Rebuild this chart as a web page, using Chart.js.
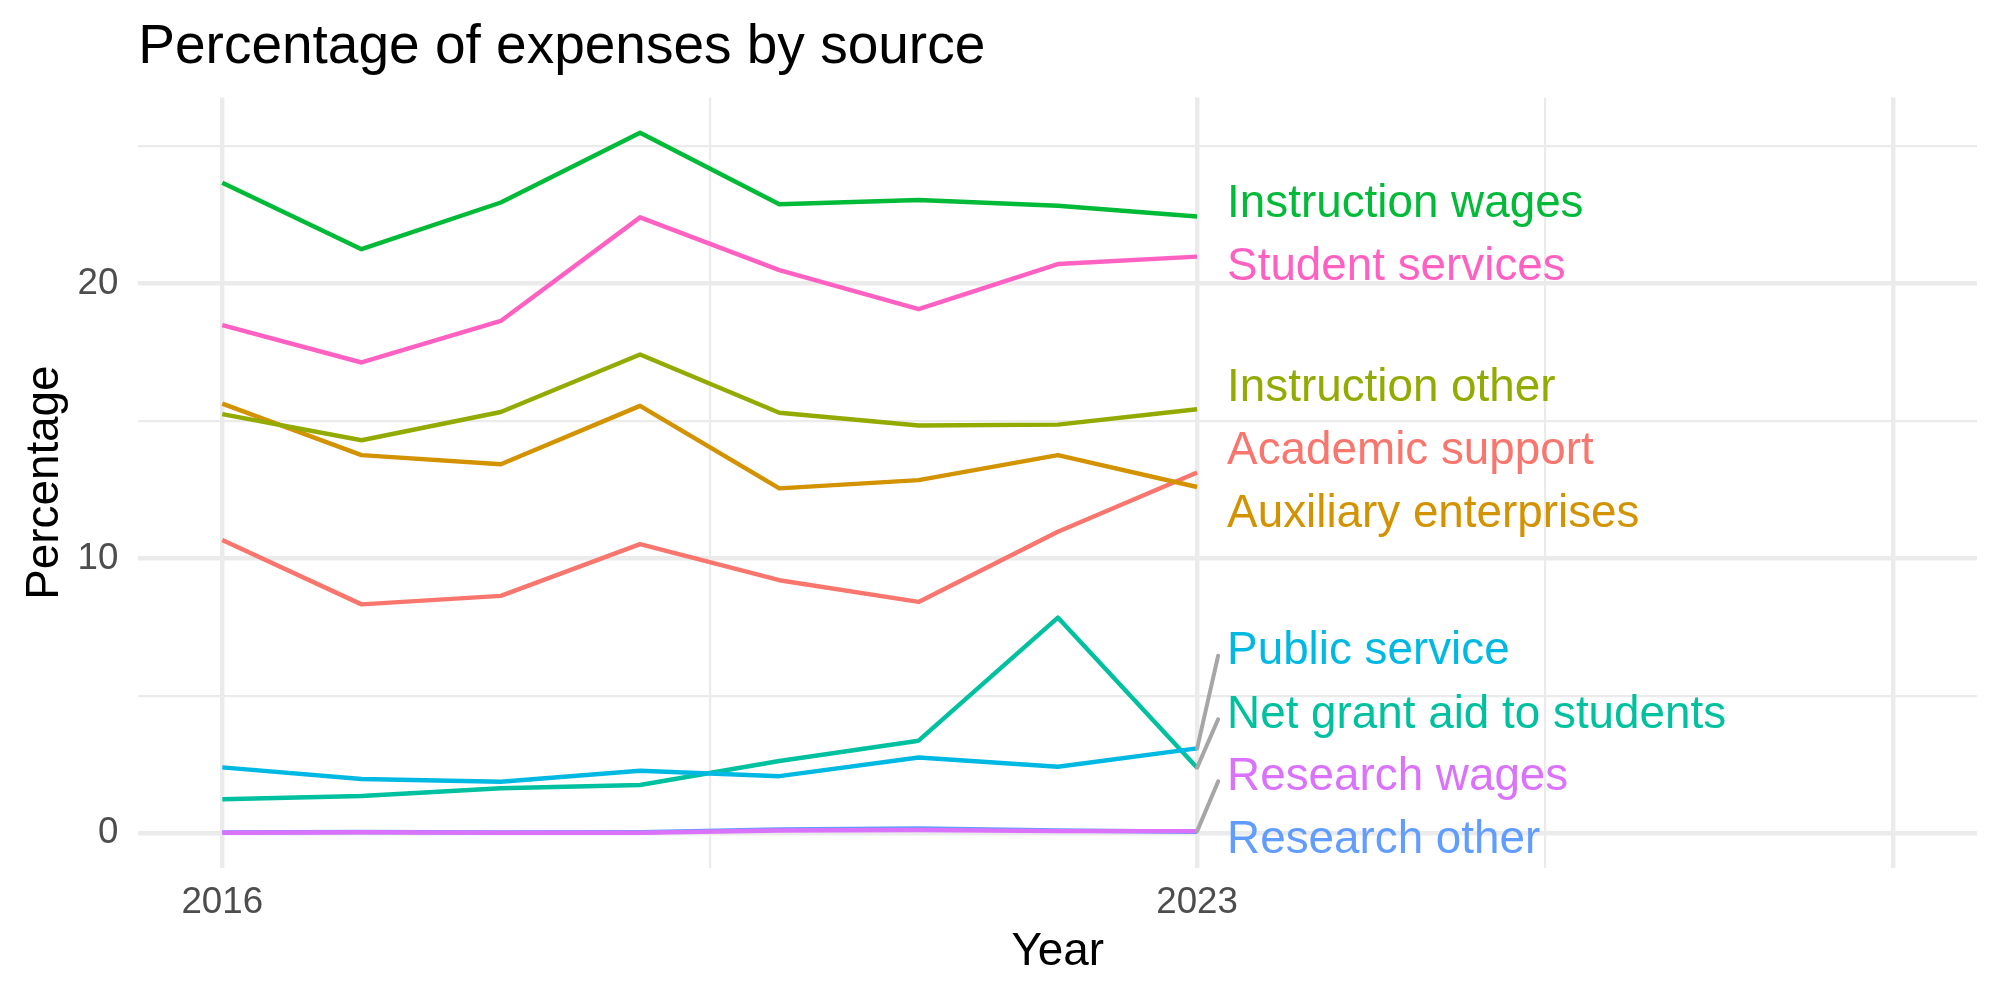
<!DOCTYPE html>
<html>
<head>
<meta charset="utf-8">
<title>Percentage of expenses by source</title>
<script src="https://cdn.jsdelivr.net/npm/chart.js@4.4.1/dist/chart.umd.min.js"></script>
<style>
  html, body { margin: 0; padding: 0; background: #fff; }
  #wrap { width: 2000px; height: 1000px; }
</style>
</head>
<body>
<div id="wrap"><canvas id="chart" width="2000" height="1000"></canvas></div>
<script>
// --- data ---
const years = [2016, 2017, 2018, 2019, 2020, 2021, 2022, 2023];

const academicSupport      = [10.67, 8.33, 8.64, 10.52, 9.21, 8.42, 10.97, 13.13];
const auxiliaryEnterprises = [15.63, 13.76, 13.43, 15.55, 12.55, 12.85, 13.76, 12.60];
const instructionOther     = [15.25, 14.30, 15.33, 17.42, 15.30, 14.84, 14.87, 15.43];
const instructionWages     = [23.67, 21.25, 22.95, 25.49, 22.89, 23.04, 22.83, 22.44];
const netGrantAid          = [1.24, 1.36, 1.64, 1.76, 2.63, 3.37, 7.85, 2.39];
const publicService        = [2.40, 1.98, 1.88, 2.28, 2.08, 2.76, 2.42, 3.09];
const researchOther        = [0.03, 0.05, 0.03, 0.04, 0.14, 0.18, 0.10, 0.06];
const researchWages        = [0.02, 0.04, 0.02, 0.02, 0.10, 0.12, 0.08, 0.08];
const studentServices      = [18.49, 17.13, 18.64, 22.41, 20.49, 19.07, 20.71, 20.98];

const seriesNames = [
  'Academic support', 'Auxiliary enterprises', 'Instruction other',
  'Instruction wages', 'Net grant aid to students', 'Public service',
  'Research other', 'Research wages', 'Student services'
];
const seriesValues = [
  academicSupport, auxiliaryEnterprises, instructionOther,
  instructionWages, netGrantAid, publicService,
  researchOther, researchWages, studentServices
];

const xMajorTicks = [2016, 2023, 2028];
const xMinorTicks = [2019.5, 2025.5];
const xTickLabels = ['2016', '2023', ''];
const yMajorTicks = [0, 10, 20];
const yMinorTicks = [5, 15, 25];
const yTickLabels = ['0', '10', '20'];

// --- styles / layout ---
const seriesColors = [
  '#F8766D', '#D39200', '#93AA00', '#00BA38', '#00C19F',
  '#00B9E3', '#619CFF', '#DB72FB', '#FF61C3'
];
// where the repelled end labels sit (centre, in y units)
const labelCentres = [14.03, 11.73, 16.33, 23.01, 4.44, 6.75, -0.13, 2.18, 20.74];

const FONT = "'Liberation Sans', Arial, Helvetica, sans-serif";
const GRID = '#EBEBEB';
const MAJOR_W = 4.45, MINOR_W = 2.2;

const titlePlugin = {
  id: 'plotTitle',
  beforeDraw(chart) {
    const ctx = chart.ctx;
    ctx.save();
    ctx.fillStyle = '#000';
    ctx.font = '55px ' + FONT;
    ctx.textBaseline = 'alphabetic';
    ctx.textAlign = 'left';
    ctx.fillText('Percentage of expenses by source', chart.chartArea.left, 63);
    ctx.restore();
  }
};

const endLabels = {
  id: 'endLabels',
  afterDatasetsDraw(chart) {
    const ctx = chart.ctx;
    const xs = chart.scales.x, ys = chart.scales.y;
    const last = years.length - 1;
    const px = xs.getPixelForValue(years[last]);
    ctx.save();
    // connector segments first
    ctx.strokeStyle = '#A6A6A6';
    ctx.lineWidth = 4;
    ctx.lineCap = 'round';
    seriesValues.forEach((vals, i) => {
      const py = ys.getPixelForValue(vals[last]);
      const ly = ys.getPixelForValue(labelCentres[i]);
      if (Math.abs(ly - py) > 40) {
        ctx.beginPath();
        ctx.moveTo(px, py);
        ctx.lineTo(px + 21, ly + 8);
        ctx.stroke();
      }
    });
    ctx.font = '45.8px ' + FONT;
    ctx.textAlign = 'left';
    ctx.textBaseline = 'alphabetic';
    seriesNames.forEach((name, i) => {
      const ly = ys.getPixelForValue(labelCentres[i]);
      ctx.fillStyle = seriesColors[i];
      ctx.fillText(name, px + 30, ly + 16.4);
    });
    ctx.restore();
  }
};

const datasets = seriesNames.map((name, i) => ({
  label: name,
  data: years.map((yr, j) => ({ x: yr, y: seriesValues[i][j] })),
  borderColor: seriesColors[i],
  backgroundColor: seriesColors[i],
  borderWidth: 4.45,
  borderJoinStyle: 'round',
  pointRadius: 0,
  tension: 0,
  fill: false,
  order: seriesNames.length - i
}));

new Chart(document.getElementById('chart').getContext('2d'), {
  type: 'line',
  data: { datasets },
  plugins: [titlePlugin, endLabels],
  options: {
    responsive: false,
    animation: false,
    layout: { padding: { top: 97.5, right: 23, bottom: 0, left: 0 } },
    plugins: { legend: { display: false }, tooltip: { enabled: false } },
    scales: {
      x: {
        type: 'linear',
        min: 2015.397,
        max: 2028.6,
        afterBuildTicks(scale) {
          scale.ticks = xMajorTicks.concat(xMinorTicks).sort((a, b) => a - b).map(v => ({ value: v }));
        },
        afterFit(scale) { scale.height = 132.3; },
        border: { display: false },
        grid: {
          color: GRID,
          drawTicks: false,
          lineWidth: c => xMajorTicks.includes(c.tick.value) ? MAJOR_W : MINOR_W
        },
        ticks: {
          autoSkip: false,
          maxRotation: 0,
          padding: 13,
          color: '#4D4D4D',
          font: { family: FONT, size: 36.7 },
          callback: v => {
            const k = xMajorTicks.indexOf(v);
            return k >= 0 ? xTickLabels[k] : '';
          }
        },
        title: {
          display: true,
          text: 'Year',
          color: '#000',
          font: { family: FONT, size: 45.8 },
          padding: { top: 0, bottom: 20 }
        }
      },
      y: {
        type: 'linear',
        min: -1.25,
        max: 26.77,
        afterBuildTicks(scale) {
          scale.ticks = yMajorTicks.concat(yMinorTicks).sort((a, b) => a - b).map(v => ({ value: v }));
        },
        afterFit(scale) { scale.width = 138.3; },
        border: { display: false },
        grid: {
          color: GRID,
          drawTicks: false,
          lineWidth: c => yMajorTicks.includes(c.tick.value) ? MAJOR_W : MINOR_W
        },
        ticks: {
          autoSkip: false,
          padding: 20,
          color: '#4D4D4D',
          font: { family: FONT, size: 36.7 },
          callback: v => {
            const k = yMajorTicks.indexOf(v);
            return k >= 0 ? yTickLabels[k] : '';
          }
        },
        title: {
          display: true,
          text: 'Percentage',
          color: '#000',
          font: { family: FONT, size: 45.8 },
          padding: { top: 17.5, bottom: 0 }
        }
      }
    }
  }
});
</script>
</body>
</html>
